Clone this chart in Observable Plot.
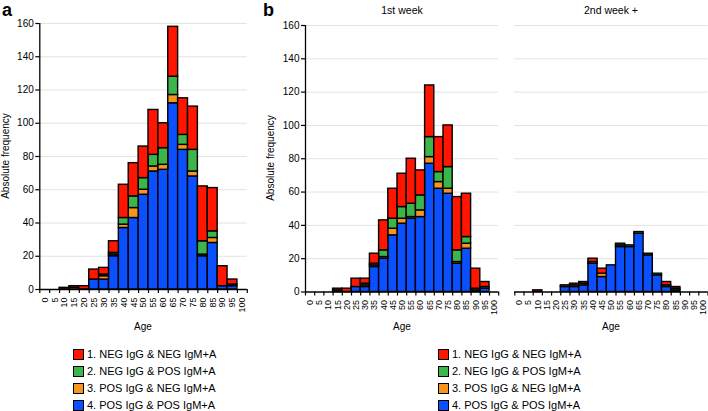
<!DOCTYPE html>
<html>
<head>
<meta charset="utf-8">
<script src="https://cdn.jsdelivr.net/npm/d3@7"></script>
<script src="https://cdn.jsdelivr.net/npm/@observablehq/plot@0.6"></script>
<style>
  body { margin: 0; background: #fff; }
  #root { position: relative; width: 708px; height: 411px; overflow: hidden;
          font-family: "Liberation Sans", Arial, sans-serif; color: #000; }
  .abs { position: absolute; white-space: nowrap; line-height: 1; }
  .ctr { transform: translate(-50%, -50%); }
  .rot { transform: translate(-50%, -50%) rotate(-90deg); }
  .panel { position: absolute; top: 0; }
  .sw { position: absolute; width: 9px; height: 9px; border: 1px solid #000; }
  .lt { position: absolute; font-size: 11px; line-height: 1; transform: translateY(-50%); white-space: nowrap; }
</style>
</head>
<body>
<div id="root"></div>
<script>
// ---------- data ----------
const ages = [0,5,10,15,20,25,30,35,40,45,50,55,60,65,70,75,80,85,90,95,100];
const categories = ["1. NEG IgG & NEG IgM+A","2. NEG IgG & POS IgM+A","3. POS IgG & NEG IgM+A","4. POS IgG & POS IgM+A"];
const colors = ["#ff1500","#3cb54a","#f7941d","#0a50ff"];
const yTicks = [0,20,40,60,80,100,120,140,160];
const panelTitles = ["1st week","2nd week +"];

// panel a (all)
const allRed    = [0,0,1,1,2,6,4,7,20,20,19,27,15,30,22,26,33,26,12,3,0];
const allGreen  = [0,0,0,0,0,0,1,1,4,7,7,7,10,11,6,13,8,4,0,1,0];
const allOrange = [0,0,0,1,0,0,2,1,2,6,3,3,3,5,3,3,1,3,0,0,0];
const allBlue   = [0,0,0,0,0,6,6,20,37,43,57,71,72,112,84,68,20,28,2,2,0];

// panel b, 1st week
const w1Red    = [0,0,0,1,2,5,3,6,18,18,20,27,15,31,21,25,32,26,12,3,0];
const w1Green  = [0,0,0,0,0,0,1,1,4,6,7,8,9,12,6,13,7,4,0,1,0];
const w1Orange = [0,0,0,1,0,0,1,1,1,4,3,1,4,4,4,3,1,3,1,0,0];
const w1Blue   = [0,0,0,0,0,3,3,15,20,34,41,44,45,77,62,59,17,26,1,2,0];

// panel b, 2nd week +
const w2Red    = [0,0,1,0,0,1,1,1,2,3,0,0,0,0,0,0,2,1,0,0,0];
const w2Green  = [0,0,0,0,0,0,0,0,1,0,0,1,1,1,1,1,1,1,0,0,0];
const w2Orange = [0,0,0,0,0,0,1,1,0,2,0,1,0,0,0,0,0,0,0,0,0];
const w2Blue   = [0,0,0,0,0,3,3,4,17,9,16,27,27,35,22,10,3,1,0,0,0];

// ---------- helpers ----------
const half = (ages[1] - ages[0]) / 2;
const edges = ages.map(a => a - half).concat([ages[ages.length - 1] + half]);
const FONT = "'Liberation Sans', Arial, sans-serif";

function tidy(red, green, orange, blue) {
  // bottom -> top stacking order: blue, orange, green, red
  const series = [[categories[3], blue], [categories[2], orange], [categories[1], green], [categories[0], red]];
  const rows = [];
  for (const [cat, vals] of series) {
    vals.forEach((v, i) => {
      if (v > 0) rows.push({cat, age: ages[i], x1: ages[i] - half, x2: ages[i] + half, value: v});
    });
  }
  return rows;
}

function panel(data, o) {
  return Plot.plot({
    width: o.width, height: o.height,
    marginLeft: o.ml, marginRight: o.mr, marginTop: o.mt, marginBottom: o.mb,
    style: {fontFamily: FONT, fontSize: "10px", overflow: "visible", background: "none"},
    x: {domain: [edges[0], edges[edges.length - 1]], label: null, axis: null},
    y: {domain: [yTicks[0], yTicks[yTicks.length - 1]], label: null, axis: null},
    color: {type: "ordinal", domain: categories, range: colors},
    marks: [
      Plot.gridY(yTicks.slice(1), {stroke: "#e2e2e2", strokeOpacity: 1, strokeWidth: 1}),
      Plot.rectY(data, {x1: "x1", x2: "x2", y: "value", fill: "cat", stroke: "#000", strokeWidth: 1.4}),
      Plot.axisX({ticks: ages, tickSize: 0, tickPadding: 8, tickRotate: -90, fontSize: 9, label: null}),
      Plot.axisX({ticks: edges, tickSize: 4, strokeWidth: 1.2, tickFormat: () => "", label: null}),
      Plot.ruleY([yTicks[0]], {stroke: "#000", strokeWidth: 1.3}),
      ...(o.showY ? [
        Plot.axisY({ticks: yTicks, tickSize: 4, tickPadding: 2, strokeWidth: 1.2, fontSize: 10, label: null}),
        Plot.ruleX([edges[0]], {stroke: "#000", strokeWidth: 1.3})
      ] : [])
    ]
  });
}

const root = document.getElementById("root");

function place(svg, left) {
  const d = document.createElement("div");
  d.className = "panel";
  d.style.left = left + "px";
  d.appendChild(svg);
  root.appendChild(d);
}

// panel a: plot area x 39.3..246.8, y 23..289
place(panel(tidy(allRed, allGreen, allOrange, allBlue),
  {width: 252, height: 340, ml: 39.3, mr: 5.2, mt: 23, mb: 51, showY: true}), 0);
// panel b 1st week: plot area x 305..498.2, y 25..291.5
place(panel(tidy(w1Red, w1Green, w1Orange, w1Blue),
  {width: 240, height: 340, ml: 43, mr: 3.8, mt: 25, mb: 48.5, showY: true}), 262);
// panel b 2nd week+: plot area x 514.3..707.5
place(panel(tidy(w2Red, w2Green, w2Orange, w2Blue),
  {width: 203, height: 340, ml: 9.3, mr: 0.5, mt: 25, mb: 48.5, showY: false}), 505);

function text(str, x, y, cls, style) {
  const d = document.createElement("div");
  d.className = "abs " + cls;
  d.textContent = str;
  d.style.left = x + "px";
  d.style.top = y + "px";
  Object.assign(d.style, style || {});
  root.appendChild(d);
}

// panel letters
text("a", 2, 1, "", {fontSize: "18px", fontWeight: "bold"});
text("b", 263, 1, "", {fontSize: "18px", fontWeight: "bold"});
// facet titles
text(panelTitles[0], 402, 10, "ctr", {fontSize: "10.5px"});
text(panelTitles[1], 611, 10, "ctr", {fontSize: "10.5px"});
// y labels
text("Absolute frequency", 6, 156, "rot", {fontSize: "10px"});
text("Absolute frequency", 270.5, 158, "rot", {fontSize: "10px"});
// x labels
text("Age", 143, 327, "ctr", {fontSize: "10px"});
text("Age", 402, 327, "ctr", {fontSize: "10px"});
text("Age", 611, 327, "ctr", {fontSize: "10px"});

// legends
function legend(x, y0) {
  categories.forEach((c, i) => {
    const y = y0 + i * 17;
    const s = document.createElement("div");
    s.className = "sw";
    s.style.left = x + "px";
    s.style.top = (y - 5) + "px";
    s.style.background = colors[i];
    root.appendChild(s);
    const t = document.createElement("div");
    t.className = "lt";
    t.textContent = c;
    t.style.left = (x + 14) + "px";
    t.style.top = y + "px";
    root.appendChild(t);
  });
}
legend(73, 353.5);
legend(438, 353.5);
</script>
</body>
</html>
